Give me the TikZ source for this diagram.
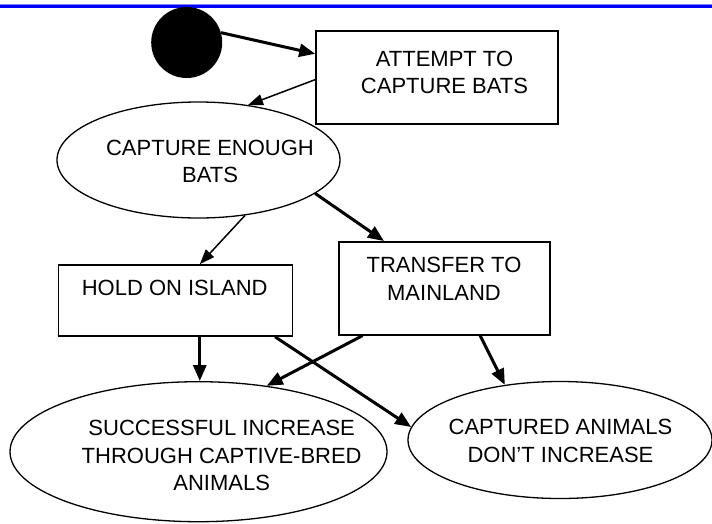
\documentclass[tikz,border=0pt]{standalone}
\usepackage{fontspec}
\setmainfont{Liberation Sans}
\usetikzlibrary{arrows.meta,shapes.geometric}

\begin{document}
\begin{tikzpicture}[x=1pt,y=-1pt]

\tikzset{blob/.style = {shape=circle,fill=black,minimum size=71pt,inner sep=0pt}}
\tikzset{actbox/.style = {shape=rectangle,draw,line width=1.6pt,inner sep=0pt}}
\tikzset{oval/.style = {shape=ellipse,draw,line width=1.3pt,inner sep=0pt}}
\tikzset{txt/.style = {align=center,inner sep=0pt,font=\fontsize{22}{27.5}\selectfont}}
\tikzset{edge/.style = {-{Triangle[length=16pt,width=13pt]},line width=3pt}}
\tikzset{thinedge/.style = {-{Triangle[length=15pt,width=11pt]},line width=1.5pt}}

\useasboundingbox (0,0) rectangle (712,523);
% top rule
\draw[blue!50,line width=1pt] (0,4.5) -- (712,4.5);
\draw[blue,line width=3pt] (0,6.5) -- (712,6.5);
% vertices
\node[blob] (Start) at (186.7,42.5) {};
\node[actbox,minimum width=242pt,minimum height=93pt] (Attempt) at (437,77.5) {};
\node[oval,minimum width=283pt,minimum height=116pt] (Enough) at (198.5,160) {};
\node[actbox,minimum width=234pt,minimum height=71pt] (Hold) at (175.3,300.5) {};
\node[actbox,minimum width=211pt,minimum height=93pt] (Transfer) at (444.5,288.3) {};
\node[oval,minimum width=377pt,minimum height=140pt] (Success) at (198.5,451.7) {};
\node[oval,minimum width=304pt,minimum height=117pt] (Captured) at (560,440) {};
% texts
\node[txt] (AttemptText) at (444.5,72.5) {ATTEMPT TO\\CAPTURE BATS};
\node[txt] (EnoughText) at (210,161.3) {CAPTURE ENOUGH\\BATS};
\node[txt] (HoldText) at (174.7,288) {HOLD ON ISLAND};
\node[txt] (TransferText) at (444,279) {TRANSFER TO\\MAINLAND};
\node[txt] (SuccessText) at (221.7,455.8) {SUCCESSFUL INCREASE\\THROUGH CAPTIVE-BRED\\ANIMALS};
\node[txt] (CapturedText) at (560.5,441) {CAPTURED ANIMALS\\DON’T INCREASE};
%edges
\draw[edge] (Start.16) to (Attempt.169);
\draw[thinedge] (Attempt.181) to (Enough.48);
\draw[edge] (Enough.-16) to (Transfer.142);
\draw[thinedge] (Enough.-50) to (Hold.56);
\draw[edge] (Hold.-56) to (Hold.-56 |- Success.north);
\draw[edge] (Hold.-20.5) to (Captured.175);
\draw[edge] (Transfer.210) to (Success.44);
\draw[edge] (Transfer.-53) to (Captured.135);
\end{tikzpicture}
\end{document}
